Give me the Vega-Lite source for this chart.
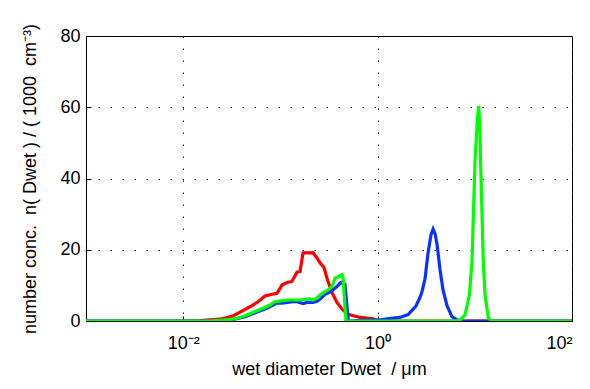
{
  "$schema": "https://vega.github.io/schema/vega-lite/v6.json",
  "width": 486,
  "height": 285,
  "autosize": {"type": "none"},
  "padding": {"left": 86, "top": 36, "right": 18, "bottom": 68},
  "background": "white",
  "config": {
    "view": {"stroke": "black", "strokeWidth": 1},
    "font": "Liberation Sans",
    "axis": {
      "domainColor": "black",
      "domainWidth": 1,
      "tickColor": "black",
      "tickSize": -5,
      "labelColor": "black",
      "labelFontSize": 18,
      "labelFont": "Liberation Sans",
      "titleColor": "black",
      "titleFont": "Liberation Sans",
      "titleFontSize": 18,
      "titleFontWeight": "normal",
      "gridColor": "#222222",
      "gridDash": [1.5, 10.5],
      "gridWidth": 1,
      "gridOpacity": 1
    }
  },
  "datasets": {
    "curves": [
      {"s": "red", "d": 0.001, "n": 0}, {"s": "red", "d": 0.01, "n": 0}, {"s": "red", "d": 0.0149, "n": 0.1}, {"s": "red", "d": 0.0239, "n": 0.5}, {"s": "red", "d": 0.0325, "n": 1.4}, {"s": "red", "d": 0.0412, "n": 2.9}, {"s": "red", "d": 0.0486, "n": 4.0}, {"s": "red", "d": 0.0589, "n": 5.4}, {"s": "red", "d": 0.0695, "n": 7.0}, {"s": "red", "d": 0.082, "n": 7.5}, {"s": "red", "d": 0.0923, "n": 7.8}, {"s": "red", "d": 0.1, "n": 9.3}, {"s": "red", "d": 0.1038, "n": 10.1}, {"s": "red", "d": 0.1169, "n": 10.8}, {"s": "red", "d": 0.1315, "n": 11.1}, {"s": "red", "d": 0.1483, "n": 13.7}, {"s": "red", "d": 0.1592, "n": 13.9}, {"s": "red", "d": 0.171, "n": 19.1}, {"s": "red", "d": 0.1879, "n": 19.1}, {"s": "red", "d": 0.2163, "n": 19.2}, {"s": "red", "d": 0.2382, "n": 17.7}, {"s": "red", "d": 0.2553, "n": 16.3}, {"s": "red", "d": 0.2812, "n": 15.0}, {"s": "red", "d": 0.3013, "n": 12.0}, {"s": "red", "d": 0.3396, "n": 8.0}, {"s": "red", "d": 0.3819, "n": 5.2}, {"s": "red", "d": 0.4305, "n": 3.3}, {"s": "red", "d": 0.4955, "n": 1.9}, {"s": "red", "d": 0.6592, "n": 1.0}, {"s": "red", "d": 0.8974, "n": 0.6}, {"s": "red", "d": 1.06, "n": 0}, {"s": "red", "d": 100, "n": 0},
      {"s": "blue", "d": 0.001, "n": 0}, {"s": "blue", "d": 0.02, "n": 0}, {"s": "blue", "d": 0.0239, "n": 0.1}, {"s": "blue", "d": 0.0325, "n": 0.4}, {"s": "blue", "d": 0.0433, "n": 1.2}, {"s": "blue", "d": 0.0574, "n": 2.5}, {"s": "blue", "d": 0.0728, "n": 3.6}, {"s": "blue", "d": 0.0923, "n": 5.1}, {"s": "blue", "d": 0.1038, "n": 5.0}, {"s": "blue", "d": 0.1169, "n": 5.2}, {"s": "blue", "d": 0.1349, "n": 5.4}, {"s": "blue", "d": 0.1483, "n": 5.4}, {"s": "blue", "d": 0.171, "n": 4.9}, {"s": "blue", "d": 0.1923, "n": 5.3}, {"s": "blue", "d": 0.2163, "n": 5.2}, {"s": "blue", "d": 0.2382, "n": 5.5}, {"s": "blue", "d": 0.2618, "n": 6.4}, {"s": "blue", "d": 0.2877, "n": 7.5}, {"s": "blue", "d": 0.3162, "n": 8.0}, {"s": "blue", "d": 0.3475, "n": 8.8}, {"s": "blue", "d": 0.3819, "n": 9.7}, {"s": "blue", "d": 0.4198, "n": 10.8}, {"s": "blue", "d": 0.4613, "n": 10.3}, {"s": "blue", "d": 0.5, "n": 0}, {"s": "blue", "d": 0.659, "n": 0.2}, {"s": "blue", "d": 1.059, "n": 0.3}, {"s": "blue", "d": 1.44, "n": 0.8}, {"s": "blue", "d": 1.7, "n": 1.0}, {"s": "blue", "d": 1.87, "n": 1.4}, {"s": "blue", "d": 2.06, "n": 1.8}, {"s": "blue", "d": 2.26, "n": 3.0}, {"s": "blue", "d": 2.48, "n": 4.2}, {"s": "blue", "d": 2.73, "n": 6.6}, {"s": "blue", "d": 2.86, "n": 8.2}, {"s": "blue", "d": 3.08, "n": 12.0}, {"s": "blue", "d": 3.3, "n": 19.0}, {"s": "blue", "d": 3.54, "n": 24.2}, {"s": "blue", "d": 3.72, "n": 25.8}, {"s": "blue", "d": 3.9, "n": 24.5}, {"s": "blue", "d": 4.09, "n": 21.5}, {"s": "blue", "d": 4.39, "n": 14.4}, {"s": "blue", "d": 4.71, "n": 8.7}, {"s": "blue", "d": 5.18, "n": 4.3}, {"s": "blue", "d": 5.82, "n": 1.2}, {"s": "blue", "d": 6.56, "n": 0.3}, {"s": "blue", "d": 7.38, "n": 0}, {"s": "blue", "d": 100, "n": 0},
      {"s": "green", "d": 0.001, "n": 0}, {"s": "green", "d": 0.018, "n": 0}, {"s": "green", "d": 0.0239, "n": 0.2}, {"s": "green", "d": 0.0325, "n": 0.5}, {"s": "green", "d": 0.0384, "n": 1.0}, {"s": "green", "d": 0.0453, "n": 1.7}, {"s": "green", "d": 0.0574, "n": 2.9}, {"s": "green", "d": 0.0662, "n": 3.6}, {"s": "green", "d": 0.0782, "n": 4.5}, {"s": "green", "d": 0.0879, "n": 5.4}, {"s": "green", "d": 0.1064, "n": 5.7}, {"s": "green", "d": 0.1256, "n": 5.9}, {"s": "green", "d": 0.1592, "n": 5.9}, {"s": "green", "d": 0.1791, "n": 6.1}, {"s": "green", "d": 0.2018, "n": 6.2}, {"s": "green", "d": 0.2163, "n": 5.9}, {"s": "green", "d": 0.2382, "n": 6.4}, {"s": "green", "d": 0.2553, "n": 7.3}, {"s": "green", "d": 0.2812, "n": 8.1}, {"s": "green", "d": 0.3013, "n": 8.5}, {"s": "green", "d": 0.3396, "n": 9.7}, {"s": "green", "d": 0.3648, "n": 12.0}, {"s": "green", "d": 0.4009, "n": 12.5}, {"s": "green", "d": 0.4305, "n": 13.0}, {"s": "green", "d": 0.4406, "n": 12.3}, {"s": "green", "d": 0.473, "n": 0}, {"s": "green", "d": 6.0, "n": 0}, {"s": "green", "d": 7.05, "n": 0.2}, {"s": "green", "d": 7.93, "n": 1.7}, {"s": "green", "d": 8.8, "n": 7.3}, {"s": "green", "d": 9.36, "n": 16.7}, {"s": "green", "d": 10.05, "n": 45}, {"s": "green", "d": 10.6, "n": 56}, {"s": "green", "d": 10.95, "n": 60.4}, {"s": "green", "d": 11.25, "n": 56}, {"s": "green", "d": 11.47, "n": 45}, {"s": "green", "d": 12.23, "n": 16.7}, {"s": "green", "d": 12.74, "n": 7.3}, {"s": "green", "d": 13.79, "n": 0.8}, {"s": "green", "d": 14.95, "n": 0}, {"s": "green", "d": 100, "n": 0}
    ]
  },
  "data": {"name": "curves"},
  "encoding": {
    "x": {
      "field": "d", "type": "quantitative",
      "scale": {"type": "log", "domain": [0.001, 100], "nice": false},
      "axis": {
        "values": [0.01, 1, 100],
        "labelExpr": "datum.value < 0.05 ? '10⁻²' : (datum.value < 10 ? '10⁰' : '10²')",
        "title": "wet diameter Dwet\u00a0\u00a0/\u00a0μm",
        "grid": true,
        "labelPadding": 18,
        "titlePadding": 8
      }
    },
    "y": {
      "field": "n", "type": "quantitative",
      "scale": {"domain": [0, 80], "nice": false},
      "axis": {
        "values": [0, 20, 40, 60, 80],
        "title": "number conc.\u00a0\u00a0n(\u00a0Dwet\u00a0)\u00a0/\u00a0(\u00a01000\u00a0\u00a0cm⁻³)",
        "grid": true,
        "labelPadding": 11,
        "titlePadding": 20
      }
    }
  },
  "layer": [
    {"transform": [{"filter": "datum.s == 'red'"}], "mark": {"type": "line", "color": "#ff0000", "strokeWidth": 3.2, "clip": true}},
    {"transform": [{"filter": "datum.s == 'blue'"}], "mark": {"type": "line", "color": "#0a32ff", "strokeWidth": 3.2, "clip": true}},
    {"transform": [{"filter": "datum.s == 'green'"}], "mark": {"type": "line", "color": "#00ff00", "strokeWidth": 3.2, "clip": true}}
  ]
}
